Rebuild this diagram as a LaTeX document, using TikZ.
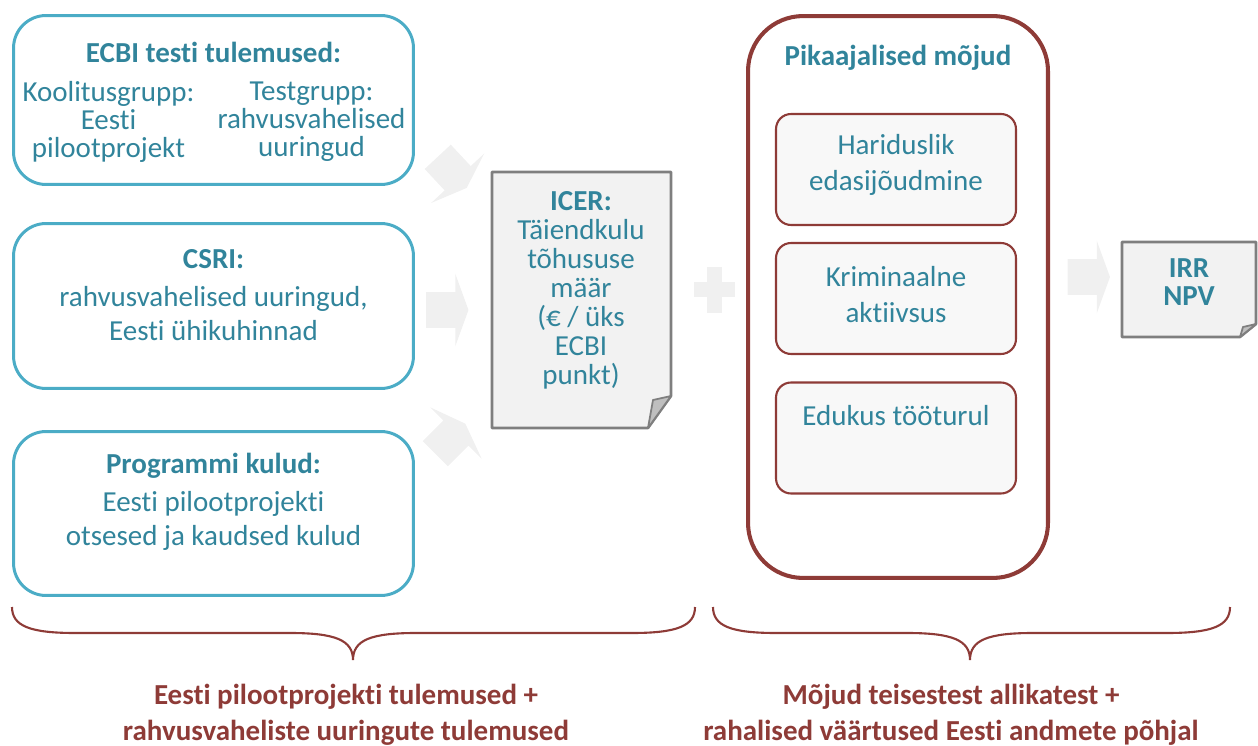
\documentclass[tikz,border=0pt]{standalone}
\usepackage{fontspec}
\setmainfont{Carlito}[RawFeature={-liga;-clig;-dlig;-calt}]
\usetikzlibrary{shapes.arrows}

\definecolor{tealtext}{HTML}{31849B}
\definecolor{tealline}{HTML}{4BACC6}
\definecolor{darkred}{HTML}{8E3B37}
\definecolor{docgray}{HTML}{F2F2F2}
\definecolor{docline}{HTML}{7F7F7F}
\definecolor{arrowgray}{HTML}{F0F0F0}
\definecolor{innerfill}{HTML}{F8F8F8}

\begin{document}
\begin{tikzpicture}[x=0.02cm,y=-0.02cm,
  every node/.style={font=\fontsize{16.5}{19.5}\selectfont,text=tealtext,align=center},
  boldtitle/.style={font=\fontsize{16.5}{19.5}\selectfont\bfseries},
  tightlines/.style={font=\fontsize{16.5}{16}\selectfont},
  tealbox/.style={draw=tealline,line width=1.7pt,rounded corners=0.65cm,minimum width=8cm},
  redbox/.style={draw=darkred,line width=1.2pt,fill=innerfill,rounded corners=0.3cm,minimum width=4.8cm,minimum height=2.22cm},
  docpage/.style={fill=docgray,draw=docline,line width=1.5pt,line join=round},
  docfold/.style={fill=black!25,draw=docline,line width=1pt,line join=round},
  bigarrow/.style={single arrow,fill=arrowgray,draw=none,inner xsep=0pt,inner ysep=0.35cm,minimum height=0.85cm,single arrow head extend=0.37cm,single arrow tip angle=140},
  bracket/.style={draw=darkred,line width=1.2pt},
  caption/.style={text=darkred,font=\fontsize{16.5}{20.5}\selectfont\bfseries}
]
\useasboundingbox (0,0) rectangle (1258,746);

% left column
\node (ecbi) [tealbox,minimum height=3.38cm] at (213.5,100) {};
\node (ecbititle) [boldtitle] at (213.5,52) {ECBI testi tulemused:};
\node (koolitus) [tightlines] at (108.5,122) {Koolitusgrupp:\\Eesti\\pilootprojekt};
\node (testgrupp) [tightlines] at (311.5,122) {Testgrupp:\\rahvusvahelised\\uuringud};

\node (csri) [tealbox,minimum height=3.3cm] at (213.5,306) {};
\node (csritext) at (213.5,295) {\textbf{CSRI:}\\[2pt]rahvusvahelised uuringud,\\Eesti ühikuhinnad};

\node (kulud) [tealbox,minimum height=3.28cm] at (213.5,513.5) {};
\node (kuludtext) at (213.5,502) {\textbf{Programmi kulud:}\\[2pt]Eesti pilootprojekti\\otsesed ja kaudsed kulud};

\node (arrowa) [bigarrow,rotate=-47] at (450,170) {};
\node (arrowb) [bigarrow] at (444,310) {};
\node (arrowc) [bigarrow,rotate=45] at (448,441) {};

% ICER page
\draw [docpage] (492,172) -- (671,172) -- (671,396) -- (648,428) -- (492,428) -- cycle;
\draw [docfold] (671,396) -- (653,400) -- (648,428) -- cycle;
\node (icer) [font=\fontsize{16.5}{16.5}\selectfont] at (581,290) {\textbf{ICER:}\\Täiendkulu\\tõhususe\\määr\\(€ / üks\\ECBI\\punkt)};

\fill [arrowgray] (707,267) rectangle (722,313);
\fill [arrowgray] (694,282) rectangle (735,297);

% long term effects
\node (longterm) [draw=darkred,line width=2.3pt,rounded corners=1.1cm,minimum width=6cm,minimum height=11.24cm] at (898,297) {};
\node (longtitle) [boldtitle] at (898,58) {Pikaajalised mõjud};
\node (haridus) [redbox] at (896,169.5) {};
\node (haridustext) [font=\fontsize{16.5}{20.5}\selectfont] at (896,165) {Hariduslik\\edasijõudmine};
\node (krimi) [redbox] at (896,298.5) {};
\node (krimitext) [font=\fontsize{16.5}{20.5}\selectfont] at (896,294.5) {Kriminaalne\\aktiivsus};
\node (edukus) [redbox] at (896,438) {};
\node (edukustext) at (896,416) {Edukus tööturul};

\node (arrowd) [bigarrow] at (1085.5,277) {};

% IRR page
\draw [docpage] (1122,242) -- (1256,242) -- (1256,324) -- (1240,337) -- (1122,337) -- cycle;
\draw [docfold] (1256,324) -- (1243,327) -- (1240,337) -- cycle;
\node (irr) [boldtitle,font=\fontsize{16.5}{16}\selectfont\bfseries] at (1189,282) {IRR\\NPV};

% braces
\draw [bracket] (12,607) .. controls (12,626) and (30,633) .. (75,633) -- (290,633)
  .. controls (335,633) and (353,640) .. (353,660)
  .. controls (353,640) and (371,633) .. (416,633) -- (632,633)
  .. controls (677,633) and (695,626) .. (695,607);
\draw [bracket] (713,607) .. controls (713,626) and (731,633) .. (776,633) -- (907,633)
  .. controls (952,633) and (970,640) .. (970,660)
  .. controls (970,640) and (988,633) .. (1033,633) -- (1167,633)
  .. controls (1212,633) and (1230,626) .. (1230,607);

\node (leftcaption) [caption] at (346,715) {Eesti pilootprojekti tulemused +\\rahvusvaheliste uuringute tulemused};
\node (rightcaption) [caption] at (951,715) {Mõjud teisestest allikatest +\\rahalised väärtused Eesti andmete põhjal};
\end{tikzpicture}
\end{document}
